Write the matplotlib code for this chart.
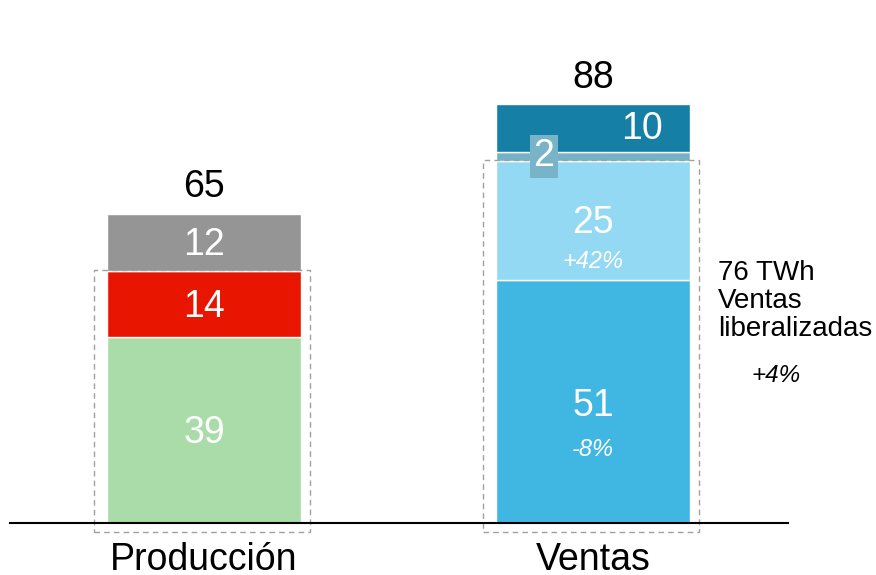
import matplotlib
matplotlib.use("Agg")
import matplotlib.pyplot as plt
from matplotlib.patches import Rectangle

plt.rcParams['font.family'] = ['Liberation Sans', 'DejaVu Sans']

categories = ["Producción", "Ventas"]
prod_values = [39, 14, 12]
prod_colors = ["#aadca9", "#e81500", "#959595"]
ventas_values = [51, 25, 2, 10]
ventas_colors = ["#40b7e3", "#93d9f3", "#74b2c6", "#157fa5"]
totals = [65, 88]
liberalized = [53, 76]
pct_labels_ventas = {0: "-8%", 1: "+42%"}
side_text = "76 TWh\nVentas\nliberalizadas"
side_pct = "+4%"

fig = plt.figure(figsize=(8.76, 5.75), dpi=100)
ax = fig.add_axes([0, 0, 1, 1])
scale = 4.76
ax.set_ylim(-52 / scale, (575 - 52) / scale)
ax.set_xlim(-204 / 389, (876 - 204) / 389)
ax.axis('off')
width = 194 / 389

def stack(x, vals, cols):
    bottom = 0
    for v, c in zip(vals, cols):
        ax.bar(x, v, width=width, bottom=bottom, color=c, edgecolor='white', linewidth=1, zorder=2)
        bottom += v

stack(0, prod_values, prod_colors)
stack(1, ventas_values, ventas_colors)

# dashed boxes around liberalized part
padx = 11 / 389
for i, top in enumerate(liberalized):
    r = Rectangle((i - width / 2 - padx - 0.004, -9 / scale), width + 2 * padx, top + 9 / scale + 0.2,
                  fill=False, edgecolor='#a0a0a0', linewidth=1, linestyle=(0, (4, 3)), zorder=3)
    ax.add_patch(r)

# baseline
ax.plot([-0.499, 1.5], [0, 0], color='black', linewidth=1.5, zorder=4)

# value labels
FS = 27
lbl = dict(color='white', fontsize=FS, ha='center', va='center', zorder=5)
b = 0
for v in prod_values:
    ax.text(0, b + v / 2 - 0.6, str(v), **lbl)
    b += v
ax.text(1, 24.6, str(ventas_values[0]), **lbl)
ax.text(1, 15.5, pct_labels_ventas[0], color='white', fontsize=17, style='italic', ha='center', va='center', zorder=5)
ax.text(1, 63.0, str(ventas_values[1]), **lbl)
ax.text(1, 55.0, pct_labels_ventas[1], color='white', fontsize=17, style='italic', ha='center', va='center', zorder=5)
ax.text(1 + 0.126, 82.8, str(ventas_values[3]), **lbl)
ax.text(0.874, 77.0, str(ventas_values[2]), color='white', fontsize=FS, ha='center', va='center', zorder=6,
        bbox=dict(boxstyle='square,pad=0.1', facecolor='#78b3c8', edgecolor='none'))

# totals
for i, t in enumerate(totals):
    ax.text(i, t + 5.5, str(t), color='black', fontsize=FS, ha='center', va='center')

# category labels
for i, c in enumerate(categories):
    ax.text(i, -7.8, c, color='black', fontsize=FS, ha='center', va='center')

# side annotation
fig.text(718 / 876, 1 - 301 / 575, side_text, fontsize=20, ha='left', va='center', linespacing=1.1)
fig.text(776 / 876, 1 - 376 / 575, side_pct, fontsize=17.5, style='italic', ha='center', va='center')

fig.savefig("out.png", dpi=100)
